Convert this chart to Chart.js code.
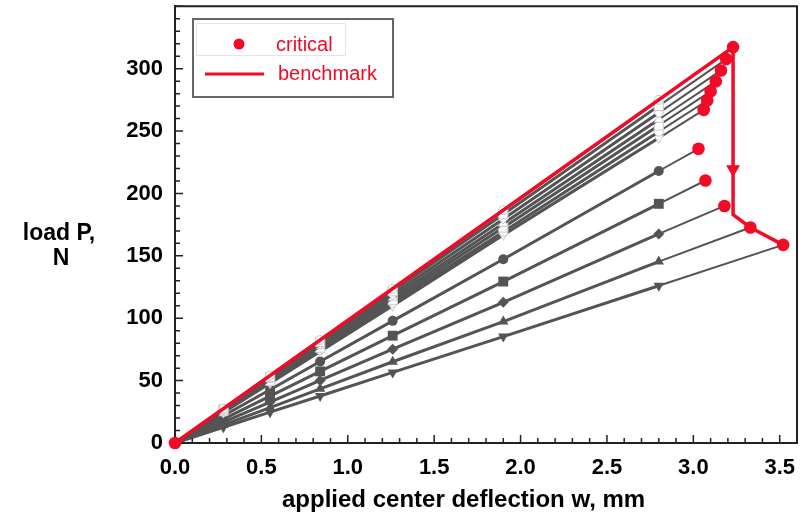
<!DOCTYPE html>
<html lang="en">
<head>
<meta charset="UTF-8">
<title>load P vs applied center deflection</title>
<script src="https://cdn.jsdelivr.net/npm/chart.js"></script>
<style>
  body { margin: 0; background: #fff; }
  canvas { display: block; }
</style>
</head>
<body>
<canvas id="chart" width="806" height="519"></canvas>
<script>
// deflection (mm) where each gray curve has a marker
const deflection = [0, 0.28, 0.55, 0.84, 1.26, 1.9, 2.8];

// load (N) of each gray curve at those deflections, top curve first
const load1 = [0, 27.5, 54.0, 82.5, 123.7, 186.6, 275.0];
const load2 = [0, 27.0, 53.0, 81.0, 121.6, 183.4, 270.2];
const load3 = [0, 26.5, 52.0, 79.4, 119.0, 179.6, 264.6];
const load4 = [0, 25.9, 50.9, 77.8, 116.7, 175.9, 259.3];
const load5 = [0, 25.5, 50.0, 76.4, 114.5, 172.7, 254.5];
const load6 = [0, 25.0, 49.0, 74.8, 112.3, 169.3, 249.5];
const load7 = [0, 24.4, 48.0, 73.3, 110.0, 166.8, 244.4];
const load8 = [0, 21.8, 42.7, 65.3, 97.9, 147.3, 218.0];
const load9 = [0, 19.1, 37.6, 57.4, 86.0, 129.4, 191.7];
const load10 = [0, 16.7, 32.8, 50.1, 75.2, 112.8, 167.6];
const load11 = [0, 14.5, 28.4, 43.4, 65.1, 97.3, 145.4];
const load12 = [0, 12.6, 24.7, 37.7, 56.6, 85.3, 126.0];
const grayLoads = [load1, load2, load3, load4, load5, load6, load7, load8, load9, load10, load11, load12];

// critical points (red dots); index 0 is the origin, then one per gray curve
const critW = [0, 3.23, 3.19, 3.16, 3.13, 3.10, 3.08, 3.06, 3.03, 3.07, 3.18, 3.33, 3.52];
const critP = [0, 317.3, 307.7, 298.6, 289.8, 281.8, 274.5, 267.0, 235.8, 210.4, 190.0, 172.7, 158.8];

// benchmark path (red line), the 3rd point carries the arrow head
const benchW = [0, 3.23, 3.23, 3.23, 3.33, 3.52];
const benchP = [0, 317.3, 219.5, 183.0, 172.7, 158.8];

const xTickLabels = [0, 0.5, 1.0, 1.5, 2.0, 2.5, 3.0, 3.5];
const yTickLabels = [0, 50, 100, 150, 200, 250, 300];

const RED = '#f20a26';
const GRAY = '#545454';
const FONT = "'Liberation Sans', Arial, sans-serif";

const markerStyles = [
  'circle', 'rect', 'rectRot', 'triangle', 'rect', 'circle', 'triangle',
  'circle', 'rect', 'rectRot', 'triangle', 'triangle'
];

const datasets = [];

datasets.push({
  label: 'critical',
  data: critW.map((w, i) => ({ x: w, y: critP[i] })),
  showLine: false,
  pointRadius: 6.3,
  pointStyle: 'circle',
  pointBackgroundColor: RED,
  pointBorderColor: RED,
  pointBorderWidth: 0,
  order: 0,
  clip: false
});

datasets.push({
  label: 'benchmark',
  data: benchW.map((w, i) => ({ x: w, y: benchP[i] })),
  borderColor: RED,
  borderWidth: 3.5,
  pointRadius: [0, 0, 8, 0, 0, 0],
  pointStyle: 'triangle',
  rotation: 180,
  pointBackgroundColor: RED,
  pointBorderColor: RED,
  pointBorderWidth: 0,
  order: 1,
  clip: false
});

grayLoads.forEach((loads, s) => {
  const pts = deflection.map((w, i) => ({ x: w, y: loads[i] }));
  pts.push({ x: critW[s + 1], y: critP[s + 1] });
  const open = s < 7;
  const style = markerStyles[s];
  let r = 5;
  if (style === 'rect') r = 7;
  if (style === 'triangle') r = 6;
  if (style === 'rectRot') r = 5.5;
  if (open) r -= 0.5;
  datasets.push({
    label: 'curve ' + (s + 1),
    data: pts,
    borderColor: GRAY,
    borderWidth: 3,
    segment: {
      borderWidth: ctx => (ctx.p1DataIndex === pts.length - 1 ? 2 : 3)
    },
    pointStyle: style,
    rotation: s === 6 || s === 11 ? 180 : 0,
    pointRadius: pts.map((p, i) => (i === 0 || i === pts.length - 1 ? 0 : r)),
    pointBackgroundColor: open ? '#ffffff' : GRAY,
    pointBorderColor: open ? '#c8c8c8' : GRAY,
    pointBorderWidth: open ? 1 : 0,
    order: 2 + s,
    clip: false
  });
});

// frame, inward ticks, axis titles and the legend box
const decorPlugin = {
  id: 'decor',
  afterDraw(chart) {
    const ctx = chart.ctx;
    const a = chart.chartArea;
    const xs = chart.scales.x;
    const ys = chart.scales.y;
    ctx.save();

    ctx.strokeStyle = '#222';
    ctx.lineWidth = 2;
    ctx.beginPath();
    ctx.moveTo(a.left, a.top);
    ctx.lineTo(a.right, a.top);
    ctx.lineTo(a.right, a.bottom);
    ctx.stroke();

    ctx.lineWidth = 1.5;
    ctx.beginPath();
    for (let i = 1; i <= 36; i++) {
      const px = xs.getPixelForValue(i / 10);
      const len = i % 5 === 0 ? 8 : 5;
      ctx.moveTo(px, a.bottom);
      ctx.lineTo(px, a.bottom - len);
    }
    for (let i = 1; i <= 35; i++) {
      const py = ys.getPixelForValue(i * 10);
      const len = i % 5 === 0 ? 8 : 5;
      ctx.moveTo(a.left, py);
      ctx.lineTo(a.left + len, py);
    }
    ctx.stroke();

    // axis titles
    ctx.fillStyle = '#000';
    ctx.font = 'bold 24px ' + FONT;
    ctx.textAlign = 'left';
    ctx.textBaseline = 'alphabetic';
    ctx.fillText('applied center deflection w, mm', 282, 507);
    ctx.font = 'bold 23px ' + FONT;
    ctx.textAlign = 'center';
    ctx.fillText('load P,', 59, 240);
    ctx.fillText('N', 61, 265);

    // legend
    ctx.strokeStyle = '#e4e4e4';
    ctx.lineWidth = 1;
    ctx.strokeRect(196.5, 23.5, 149, 32);
    ctx.strokeStyle = '#666';
    ctx.lineWidth = 2;
    ctx.strokeRect(193, 19, 200, 78);
    ctx.fillStyle = RED;
    ctx.beginPath();
    ctx.arc(239, 44, 5.5, 0, Math.PI * 2);
    ctx.fill();
    ctx.strokeStyle = RED;
    ctx.lineWidth = 3;
    ctx.beginPath();
    ctx.moveTo(205, 74);
    ctx.lineTo(264, 74);
    ctx.stroke();
    ctx.font = '20px ' + FONT;
    ctx.textAlign = 'left';
    ctx.fillText('critical', 276, 50.5);
    ctx.fillText('benchmark', 278, 80);

    ctx.restore();
  }
};

new Chart(document.getElementById('chart'), {
  type: 'line',
  data: { datasets },
  options: {
    responsive: false,
    devicePixelRatio: 1,
    animation: false,
    layout: { padding: { top: 5, right: 9, left: 0, bottom: 0 } },
    plugins: {
      legend: { display: false },
      tooltip: { enabled: false }
    },
    scales: {
      x: {
        type: 'linear',
        min: 0,
        max: 3.6,
        grid: { display: false, drawTicks: false },
        border: { display: true, color: '#222', width: 2 },
        afterBuildTicks: scale => {
          scale.ticks = xTickLabels.map(v => ({ value: v }));
        },
        afterFit: scale => {
          scale.height = 76;
          scale.paddingLeft = 0;
          scale.paddingRight = 0;
        },
        ticks: {
          padding: 12,
          color: '#000',
          font: { family: FONT, size: 22, weight: 'bold' },
          callback: v => v.toFixed(1)
        }
      },
      y: {
        type: 'linear',
        min: 0,
        max: 350,
        grid: { display: false, drawTicks: false },
        border: { display: true, color: '#222', width: 2 },
        afterBuildTicks: scale => {
          scale.ticks = yTickLabels.map(v => ({ value: v }));
        },
        afterFit: scale => {
          scale.width = 175;
          scale.paddingTop = 0;
          scale.paddingBottom = 0;
        },
        ticks: {
          padding: 12,
          color: '#000',
          font: { family: FONT, size: 22, weight: 'bold' },
          callback: v => String(v)
        }
      }
    }
  },
  plugins: [decorPlugin]
});
</script>
</body>
</html>
